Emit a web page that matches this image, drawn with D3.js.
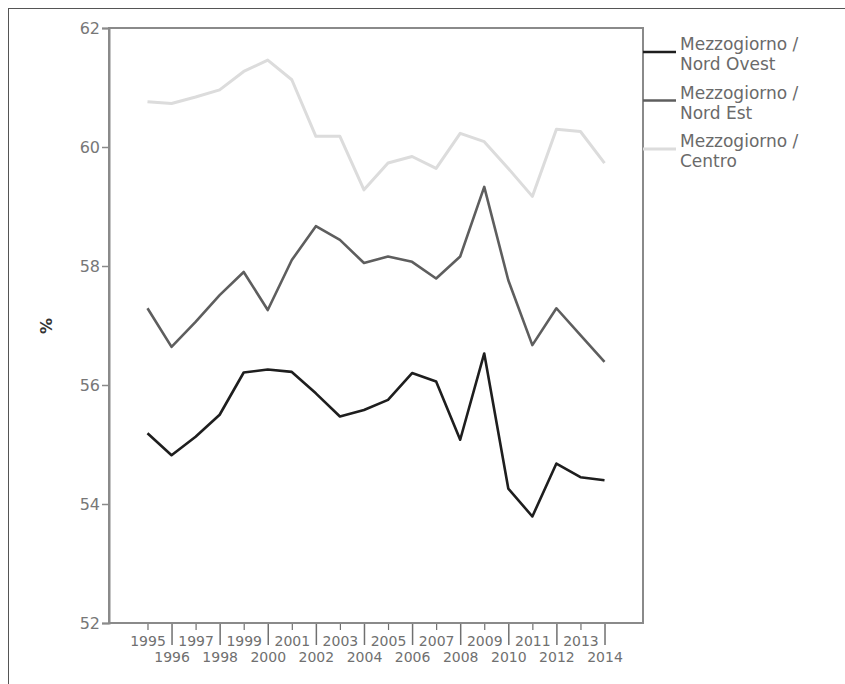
<!DOCTYPE html>
<html>
<head>
<meta charset="utf-8">
<script src="https://cdn.jsdelivr.net/npm/d3@7/dist/d3.min.js"></script>
<style>
  html, body { margin: 0; padding: 0; background: #fff; }
  svg text { font-family: "DejaVu Sans", "Liberation Sans", sans-serif; }
</style>
</head>
<body>
<svg id="chart" width="845" height="684"></svg>
<script>
// Anni della serie
const years = [1995, 1996, 1997, 1998, 1999, 2000, 2001, 2002, 2003, 2004,
               2005, 2006, 2007, 2008, 2009, 2010, 2011, 2012, 2013, 2014];

// Rapporti percentuali per ripartizione
const nordOvest = [55.19, 54.82, 55.13, 55.50, 56.21, 56.26, 56.22, 55.86, 55.47, 55.58,
                   55.75, 56.20, 56.06, 55.08, 56.53, 54.26, 53.79, 54.68, 54.45, 54.40];
const nordEst   = [57.29, 56.64, 57.06, 57.51, 57.90, 57.26, 58.10, 58.67, 58.44, 58.05,
                   58.16, 58.07, 57.79, 58.16, 59.33, 57.76, 56.67, 57.29, 56.84, 56.39];
const centro    = [60.76, 60.73, 60.84, 60.96, 61.27, 61.46, 61.13, 60.18, 60.18, 59.28,
                   59.73, 59.84, 59.64, 60.23, 60.09, 59.64, 59.17, 60.30, 60.26, 59.73];

const yTicks = [52, 54, 56, 58, 60, 62];
const seriesNames = [["Mezzogiorno /", "Nord Ovest"], ["Mezzogiorno /", "Nord Est"], ["Mezzogiorno /", "Centro"]];
const seriesValues = [nordOvest, nordEst, centro];
const seriesColors = ["#1e1e1e", "#5e5e5e", "#dcdcdc"];
const seriesWidths = [2.6, 2.6, 3];

const svg = d3.select("#chart");
const plotLeft = 109, plotRight = 643, plotTop = 28, plotBottom = 623;

const x = d3.scalePoint().domain(years).range([plotLeft, plotRight]).padding(1.6);
const y = d3.scaleLinear().domain([52, 62]).range([plotBottom, plotTop]);

// cornice esterna
svg.append("rect")
  .attr("x", 8.5).attr("y", 8.5).attr("width", 900).attr("height", 800)
  .attr("fill", "none").attr("stroke", "#555").attr("stroke-width", 1);

// riquadro dell'area del grafico
svg.append("rect")
  .attr("x", plotLeft).attr("y", plotTop)
  .attr("width", plotRight - plotLeft).attr("height", plotBottom - plotTop)
  .attr("fill", "none").attr("stroke", "#8a8a8a").attr("stroke-width", 2);

// asse Y
const yAxis = svg.append("g")
  .attr("transform", `translate(${plotLeft},0)`)
  .call(d3.axisLeft(y).tickValues(yTicks).tickSize(7).tickPadding(2).tickFormat(d3.format("d")));
yAxis.select(".domain").attr("stroke", "#8a8a8a").attr("stroke-width", 2);
yAxis.selectAll(".tick line").attr("stroke", "#8a8a8a").attr("stroke-width", 1.5);
yAxis.selectAll(".tick text").attr("fill", "#777").attr("font-size", 16);

// asse X con etichette sfalsate
const xAxis = svg.append("g")
  .attr("transform", `translate(0,${plotBottom})`)
  .call(d3.axisBottom(x).tickSizeOuter(0).tickSize(7).tickPadding(0));
xAxis.select(".domain").remove();
xAxis.append("line")
  .attr("x1", plotLeft).attr("x2", plotRight).attr("y1", 0).attr("y2", 0)
  .attr("stroke", "#8a8a8a").attr("stroke-width", 2);
xAxis.selectAll(".tick").each(function(d) {
  const even = d % 2 === 0;
  const g = d3.select(this);
  g.select("line")
    .attr("y2", even ? 22 : 7)
    .attr("stroke", "#707070").attr("stroke-width", even ? 1.5 : 1.2);
  g.select("text")
    .attr("y", even ? 29 : 13)
    .attr("fill", "#707070").attr("font-size", 14);
});

// titolo asse Y
svg.append("text")
  .attr("transform", "translate(52,326) rotate(-90)")
  .attr("text-anchor", "middle")
  .attr("fill", "#333").attr("font-size", 16).attr("font-weight", "bold")
  .text("%");

// linee delle serie
const line = d3.line()
  .x((d, i) => x(years[i]))
  .y(d => y(d));

[2, 1, 0].forEach(k => {
  svg.append("path")
    .datum(seriesValues[k])
    .attr("fill", "none")
    .attr("stroke", seriesColors[k])
    .attr("stroke-width", seriesWidths[k])
    .attr("stroke-linejoin", "round")
    .attr("d", line);
});

// legenda
const legend = svg.append("g");
seriesNames.forEach((name, k) => {
  const ly = 52 + k * 48.5;
  legend.append("line")
    .attr("x1", plotRight).attr("x2", 676).attr("y1", ly).attr("y2", ly)
    .attr("stroke", seriesColors[k]).attr("stroke-width", seriesWidths[k]);
  const t = legend.append("text")
    .attr("x", 680).attr("y", ly - 2)
    .attr("fill", "#6a6a6a").attr("font-size", 17);
  t.append("tspan").attr("x", 680).attr("dy", 0).text(name[0]);
  t.append("tspan").attr("x", 680).attr("dy", 20).text(name[1]);
});
</script>
</body>
</html>
